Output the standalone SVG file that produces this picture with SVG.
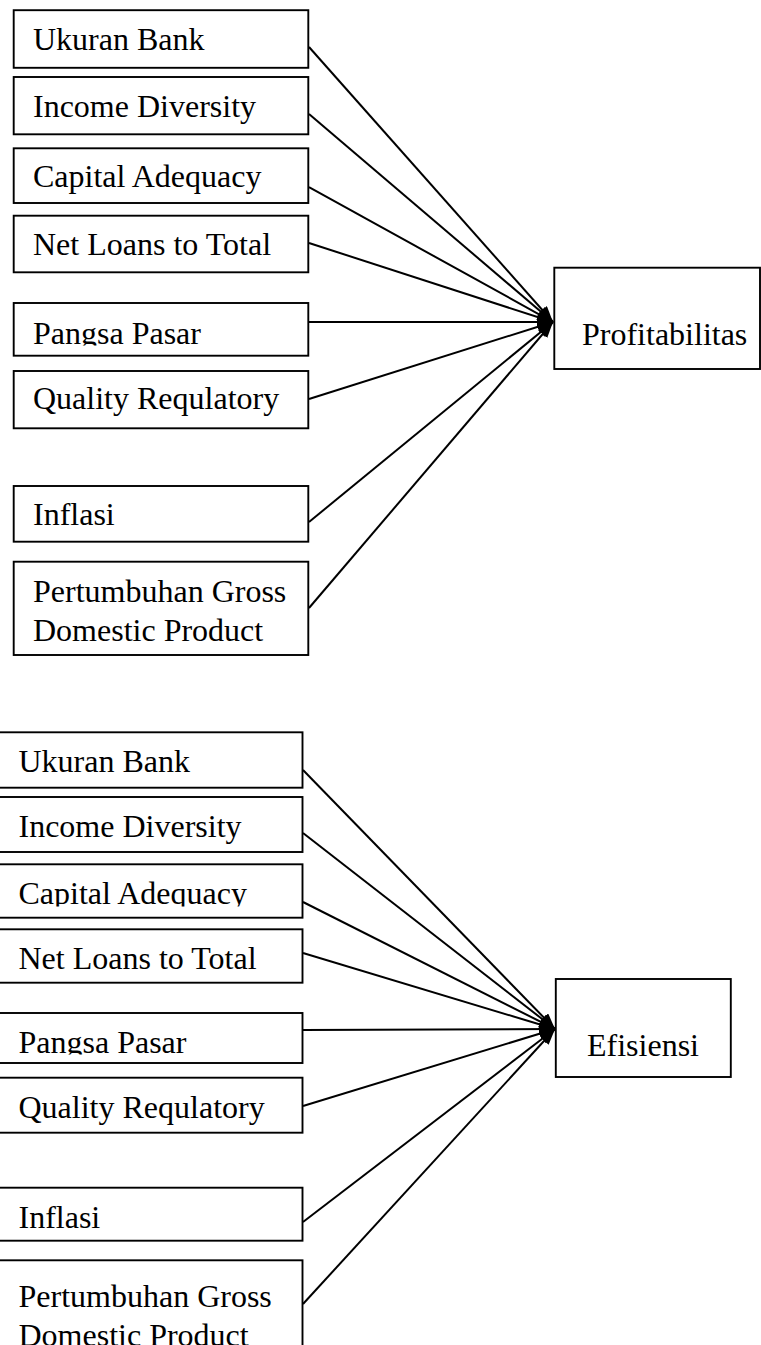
<svg xmlns="http://www.w3.org/2000/svg" width="761" height="1345" viewBox="0 0 761 1345">
<style>
.box{fill:#fff;stroke:#000;stroke-width:1.9}
.t{font-family:"Liberation Serif","Times New Roman",serif;font-size:32px;fill:#000}
.c{stroke:#000;stroke-width:2;fill:none;marker-end:url(#ah)}
</style>
<defs>
<marker id="ah" markerUnits="userSpaceOnUse" markerWidth="18" markerHeight="14" refX="16" refY="6" orient="auto">
<path d="M0,0 L16,6 L0,12 z" fill="#000"/>
</marker>
<clipPath id="clipP1"><rect x="0" y="290" width="320" height="55.5"/></clipPath>
<clipPath id="clipC2"><rect x="0" y="860" width="320" height="46.5"/></clipPath>
<clipPath id="clipP2"><rect x="0" y="1005" width="320" height="49.5"/></clipPath>
</defs>
<rect width="761" height="1345" fill="#fff"/>

<g id="connectors-top">
<line class="c" x1="309" y1="47" x2="553" y2="322"/>
<line class="c" x1="309" y1="114" x2="553" y2="322"/>
<line class="c" x1="309" y1="187" x2="553" y2="322"/>
<line class="c" x1="309" y1="243" x2="553" y2="322"/>
<line class="c" x1="309" y1="322" x2="553" y2="322"/>
<line class="c" x1="309" y1="399" x2="553" y2="322"/>
<line class="c" x1="309" y1="522" x2="553" y2="322"/>
<line class="c" x1="309" y1="608" x2="553" y2="322"/>
</g>

<g id="connectors-bottom">
<line class="c" x1="303" y1="770" x2="555" y2="1029"/>
<line class="c" x1="303" y1="833" x2="555" y2="1029"/>
<line class="c" x1="303" y1="902" x2="555" y2="1029"/>
<line class="c" x1="303" y1="953" x2="555" y2="1029"/>
<line class="c" x1="303" y1="1030" x2="555" y2="1029"/>
<line class="c" x1="303" y1="1106" x2="555" y2="1029"/>
<line class="c" x1="303" y1="1222" x2="555" y2="1029"/>
<line class="c" x1="303" y1="1304" x2="555" y2="1029"/>
</g>

<g id="top-ukuran"><rect class="box" x="13.7" y="10.2" width="294.6" height="57.6"/><text class="t" x="33" y="50">Ukuran Bank</text></g>
<g id="top-income"><rect class="box" x="13.7" y="77" width="294.6" height="57.3"/><text class="t" x="33" y="117.3">Income Diversity</text></g>
<g id="top-capital"><rect class="box" x="13.7" y="148.3" width="294.6" height="54.7"/><text class="t" x="33" y="186.7">Capital Adequacy</text></g>
<g id="top-netloans"><rect class="box" x="13.7" y="215.7" width="294.6" height="56.6"/><text class="t" x="33" y="255">Net Loans to Total</text></g>
<g id="top-pangsa"><rect class="box" x="13.7" y="303" width="294.6" height="52.7"/><text class="t" x="33" y="344" clip-path="url(#clipP1)">Pangsa Pasar</text></g>
<g id="top-quality"><rect class="box" x="13.7" y="371" width="294.6" height="57.3"/><text class="t" x="33" y="409.3">Quality Requlatory</text></g>
<g id="top-inflasi"><rect class="box" x="13.7" y="486" width="294.6" height="55.7"/><text class="t" x="33" y="525">Inflasi</text></g>
<g id="top-gdp"><rect class="box" x="13.7" y="561.7" width="294.6" height="93.3"/><text class="t" x="33" y="602.3">Pertumbuhan Gross</text><text class="t" x="33" y="641">Domestic Product</text></g>
<g id="profitabilitas"><rect class="box" x="554.3" y="267.7" width="205.7" height="101.3"/><text class="t" x="582" y="345">Profitabilitas</text></g>

<g id="bot-ukuran"><rect class="box" x="-5" y="732.3" width="307.5" height="55.4"/><text class="t" x="18.5" y="771.7">Ukuran Bank</text></g>
<g id="bot-income"><rect class="box" x="-5" y="797" width="307.5" height="55"/><text class="t" x="18.5" y="837.3">Income Diversity</text></g>
<g id="bot-capital"><rect class="box" x="-5" y="864.3" width="307.5" height="53.4"/><text class="t" x="18.5" y="904.3" clip-path="url(#clipC2)">Capital Adequacy</text></g>
<g id="bot-netloans"><rect class="box" x="-5" y="929.3" width="307.5" height="53.4"/><text class="t" x="18.5" y="969.3">Net Loans to Total</text></g>
<g id="bot-pangsa"><rect class="box" x="-5" y="1013" width="307.5" height="50"/><text class="t" x="18.5" y="1053.3" clip-path="url(#clipP2)">Pangsa Pasar</text></g>
<g id="bot-quality"><rect class="box" x="-5" y="1077.7" width="307.5" height="55"/><text class="t" x="18.5" y="1118.3">Quality Requlatory</text></g>
<g id="bot-inflasi"><rect class="box" x="-5" y="1187.7" width="307.5" height="53"/><text class="t" x="18.5" y="1227.7">Inflasi</text></g>
<g id="bot-gdp"><rect class="box" x="-5" y="1260.3" width="307.5" height="120"/><text class="t" x="18.5" y="1306.5">Pertumbuhan Gross</text><text class="t" x="18.5" y="1346">Domestic Product</text></g>
<g id="efisiensi"><rect class="box" x="555.8" y="979" width="175" height="98"/><text class="t" x="587" y="1056">Efisiensi</text></g>
</svg>
